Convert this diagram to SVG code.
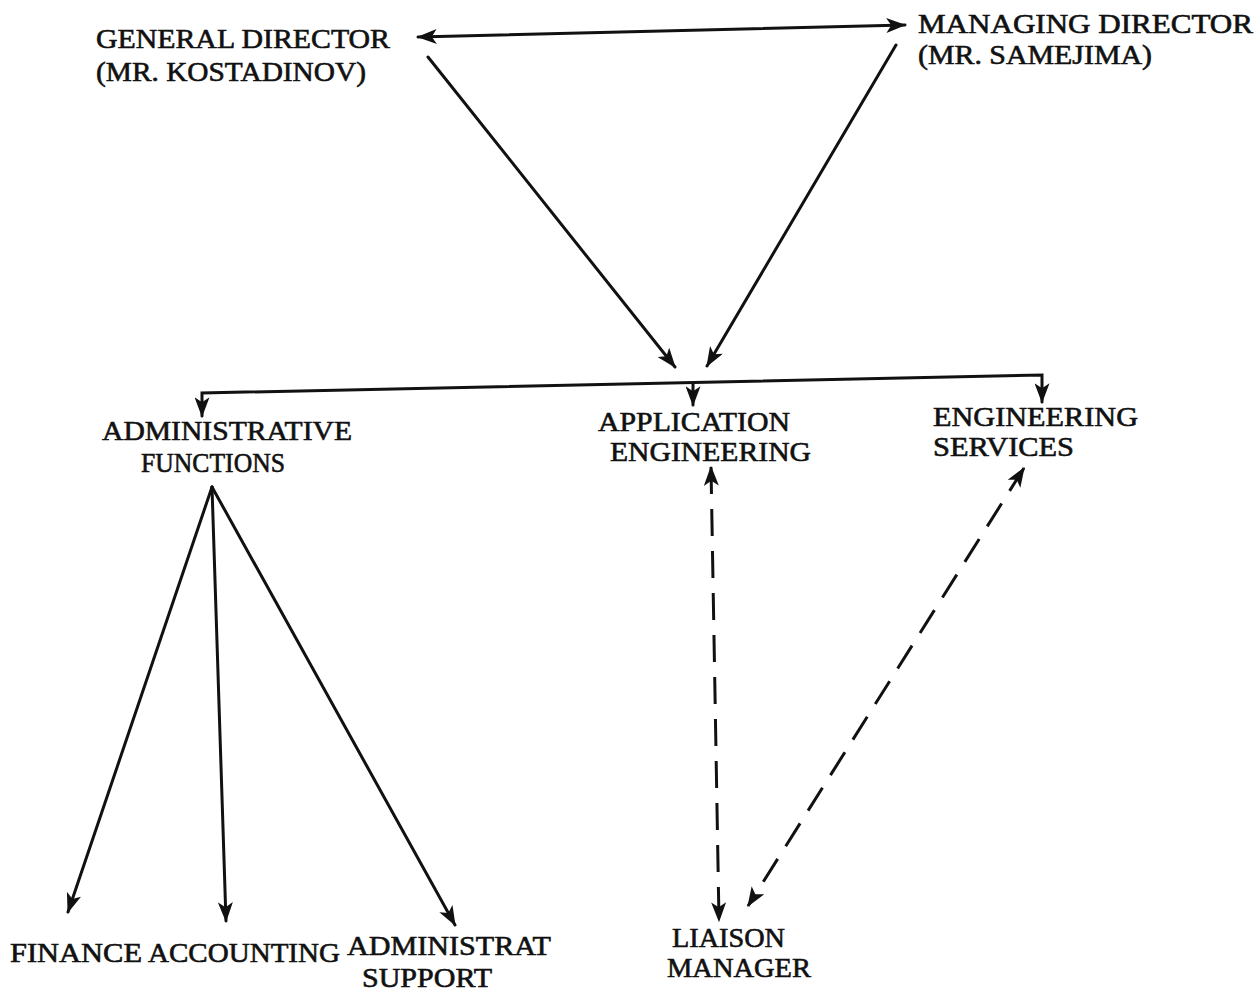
<svg xmlns="http://www.w3.org/2000/svg" width="1255" height="992" viewBox="0 0 1255 992">
  <style>
    .lbl { font-family: "Liberation Serif", "Times New Roman", serif; font-size: 27px; fill: #111; stroke: #111; stroke-width: 0.6; }
    .ln { fill: none; stroke: #111; stroke-width: 3; stroke-linecap: round; }
    .dash { stroke-dasharray: 27 15; stroke-linecap: butt; }
  </style>
  <defs>
    <marker id="ah" viewBox="0 0 16 12" refX="15" refY="6" markerWidth="20" markerHeight="15" markerUnits="userSpaceOnUse" orient="auto-start-reverse">
      <path d="M0,0 L16,6 L0,12 L4,6 Z" fill="#111"/>
    </marker>
  </defs>

  <rect width="1255" height="992" fill="#fff"/>

  <!-- connectors -->
  <g id="connectors">
    <path class="ln" d="M418,37 L905,25" marker-start="url(#ah)" marker-end="url(#ah)"/>
    <path class="ln" d="M428,57 L675,367" marker-end="url(#ah)"/>
    <path class="ln" d="M896,45 L707,366" marker-end="url(#ah)"/>
    <path class="ln" d="M1042,402 L1042,375 L202,393 L202,416" marker-start="url(#ah)" marker-end="url(#ah)"/>
    <path class="ln" d="M693,383 L693,405" marker-end="url(#ah)"/>
    <path class="ln" d="M212,487 L68,912" marker-end="url(#ah)"/>
    <path class="ln" d="M212,487 L226,921" marker-end="url(#ah)"/>
    <path class="ln" d="M212,487 L455,925" marker-end="url(#ah)"/>
    <path class="ln dash" d="M711,467 L719,921" marker-start="url(#ah)" marker-end="url(#ah)"/>
    <path class="ln dash" d="M1024,468 L748,906" marker-start="url(#ah)" marker-end="url(#ah)"/>
  </g>

  <!-- nodes -->
  <g id="general-director">
    <text class="lbl" x="96" y="48" textLength="294" lengthAdjust="spacingAndGlyphs">GENERAL DIRECTOR</text>
    <text class="lbl" x="96" y="81" textLength="270" lengthAdjust="spacingAndGlyphs">(MR. KOSTADINOV)</text>
  </g>
  <g id="managing-director">
    <text class="lbl" x="918" y="33" textLength="335" lengthAdjust="spacingAndGlyphs">MANAGING DIRECTOR</text>
    <text class="lbl" x="918" y="64" textLength="234" lengthAdjust="spacingAndGlyphs">(MR. SAMEJIMA)</text>
  </g>
  <g id="administrative-functions">
    <text class="lbl" x="102" y="440" textLength="250" lengthAdjust="spacingAndGlyphs">ADMINISTRATIVE</text>
    <text class="lbl" x="141" y="472" textLength="144" lengthAdjust="spacingAndGlyphs">FUNCTIONS</text>
  </g>
  <g id="application-engineering">
    <text class="lbl" x="598" y="431" textLength="192" lengthAdjust="spacingAndGlyphs">APPLICATION</text>
    <text class="lbl" x="610" y="461" textLength="201" lengthAdjust="spacingAndGlyphs">ENGINEERING</text>
  </g>
  <g id="engineering-services">
    <text class="lbl" x="933" y="426" textLength="205" lengthAdjust="spacingAndGlyphs">ENGINEERING</text>
    <text class="lbl" x="933" y="456" textLength="141" lengthAdjust="spacingAndGlyphs">SERVICES</text>
  </g>
  <g id="finance">
    <text class="lbl" x="10" y="962" textLength="132" lengthAdjust="spacingAndGlyphs">FINANCE</text>
  </g>
  <g id="accounting">
    <text class="lbl" x="148" y="962" textLength="192" lengthAdjust="spacingAndGlyphs">ACCOUNTING</text>
  </g>
  <g id="administrat-support">
    <text class="lbl" x="347" y="955" textLength="204" lengthAdjust="spacingAndGlyphs">ADMINISTRAT</text>
    <text class="lbl" x="362" y="987" textLength="130" lengthAdjust="spacingAndGlyphs">SUPPORT</text>
  </g>
  <g id="liaison-manager">
    <text class="lbl" x="672" y="947" textLength="113" lengthAdjust="spacingAndGlyphs">LIAISON</text>
    <text class="lbl" x="667" y="977" textLength="144" lengthAdjust="spacingAndGlyphs">MANAGER</text>
  </g>
</svg>
